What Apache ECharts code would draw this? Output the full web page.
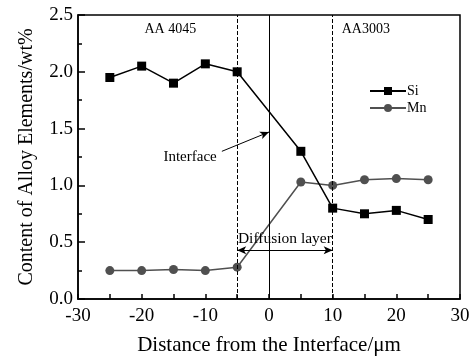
<!DOCTYPE html>
<html>
<head>
<meta charset="utf-8">
<script src="https://cdn.jsdelivr.net/npm/echarts@6/dist/echarts.min.js"></script>
<style>
  html, body { margin: 0; padding: 0; background: #fff; }
  #chart { width: 474px; height: 361px; }
</style>
</head>
<body>
<div id="chart"></div>
<script>
// Line-scan composition across the AA4045 / AA3003 interface
const distance = [-25, -20, -15, -10, -5, 5, 10, 15, 20, 25];
const siValues = [1.95, 2.05, 1.90, 2.07, 2.00, 1.30, 0.80, 0.75, 0.78, 0.70];
const mnValues = [0.25, 0.25, 0.26, 0.25, 0.28, 1.03, 1.00, 1.05, 1.06, 1.05];

// Reference lines: diffusion-layer bounds (dashed) and the interface (solid)
const diffusionBounds = [-5, 10];
const interfaceX = 0;

const FONT = '"Liberation Serif", "Times New Roman", serif';

const pair = (xs, ys) => xs.map((x, i) => [x, ys[i]]);

const chart = echarts.init(document.getElementById('chart'));

chart.setOption({
  animation: false,
  backgroundColor: '#fff',
  textStyle: { fontFamily: FONT, color: '#000' },
  grid: {
    left: 78, right: 14, top: 15, bottom: 59,
    show: true, borderColor: '#000', borderWidth: 1.5
  },
  legend: {
    left: 364, top: 79, orient: 'vertical', itemGap: 3,
    itemWidth: 36, itemHeight: 10,
    textStyle: { fontFamily: FONT, fontSize: 14, color: '#000', padding: [0, 0, 0, -4] },
    data: ['Si', 'Mn']
  },
  xAxis: {
    type: 'value', min: -30, max: 30, interval: 10,
    name: 'Distance from the Interface/\u03bcm',
    nameLocation: 'middle', nameGap: 36,
    nameTextStyle: { fontFamily: FONT, fontSize: 21, color: '#000' },
    axisLine: { onZero: false, lineStyle: { color: '#000', width: 1.5 } },
    axisTick: { inside: true, length: 5, lineStyle: { color: '#000', width: 1.5 } },
    minorTick: { show: true, splitNumber: 2, length: 5, lineStyle: { color: '#000', width: 1.5 } },
    splitLine: { show: false },
    axisLabel: { fontFamily: FONT, fontSize: 19, color: '#000', margin: 8 }
  },
  yAxis: {
    type: 'value', min: 0, max: 2.5, interval: 0.5,
    name: 'Content of Alloy Elements/wt%',
    nameLocation: 'middle', nameGap: 41,
    nameTextStyle: { fontFamily: FONT, fontSize: 20, color: '#000' },
    axisLine: { show: true, onZero: false, lineStyle: { color: '#000', width: 1.5 } },
    axisTick: { inside: true, length: 7, lineStyle: { color: '#000', width: 1.5 } },
    minorTick: { show: true, splitNumber: 2, length: 4, lineStyle: { color: '#000', width: 1.5 } },
    splitLine: { show: false },
    axisLabel: {
      fontFamily: FONT, fontSize: 19, color: '#000', margin: 5,
      formatter: v => v.toFixed(1)
    }
  },
  series: [
    {
      name: 'Si', type: 'line', data: pair(distance, siValues),
      symbol: 'rect', symbolSize: 9,
      itemStyle: { color: '#000' },
      lineStyle: { color: '#000', width: 1.5 },
      z: 3,
      markLine: {
        silent: true, symbol: 'none', label: { show: false },
        data: [
          { xAxis: diffusionBounds[0], lineStyle: { type: [4, 2], color: '#000', width: 1 } },
          { xAxis: diffusionBounds[1], lineStyle: { type: [4, 2], color: '#000', width: 1 } },
          { xAxis: interfaceX, lineStyle: { type: 'solid', color: '#000', width: 1 } },
          [
            { coord: [-7.4, 1.30], symbol: 'none' },
            { coord: [interfaceX, 1.47], symbol: 'arrow', symbolSize: [6, 9] }
          ],
          [
            { coord: [diffusionBounds[0], 0.43], symbol: 'arrow', symbolSize: [6, 9] },
            { coord: [diffusionBounds[1], 0.43], symbol: 'arrow', symbolSize: [6, 9] }
          ]
        ],
        lineStyle: { color: '#000', width: 1, type: 'solid' }
      },
      markPoint: {
        silent: true, symbol: 'circle', symbolSize: 0,
        label: { show: true, fontFamily: FONT, fontSize: 14, color: '#000', position: 'inside' },
        data: [
          { coord: [-15.5, 2.37], label: { formatter: 'AA 4045' } },
          { coord: [15.2, 2.37], label: { formatter: 'AA3003' } },
          { coord: [-12.4, 1.25], label: { formatter: 'Interface', fontSize: 15 } },
          { coord: [2.5, 0.53], label: { formatter: 'Diffusion layer', fontSize: 15.5 } }
        ]
      }
    },
    {
      name: 'Mn', type: 'line', data: pair(distance, mnValues),
      symbol: 'circle', symbolSize: 9,
      itemStyle: { color: '#505050' },
      lineStyle: { color: '#505050', width: 1.5 },
      z: 2
    }
  ]
});
</script>
</body>
</html>
